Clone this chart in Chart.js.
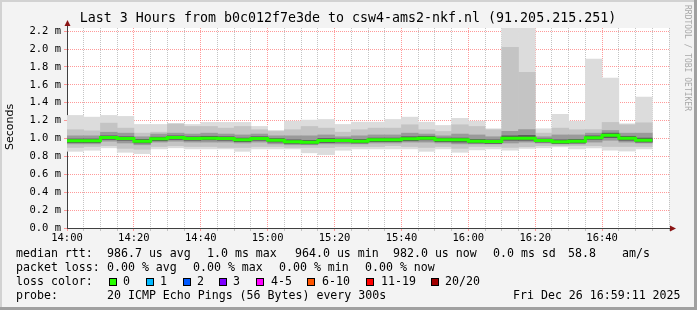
<!DOCTYPE html>
<html>
<head>
<meta charset="utf-8">
<script src="https://cdn.jsdelivr.net/npm/chart.js@4/dist/chart.umd.min.js"></script>
<style>
  html, body { margin: 0; padding: 0; background: #f3f3f3; }
  canvas { display: block; }
</style>
</head>
<body>
<canvas id="smoke" width="697" height="310"></canvas>
<script>
// 5 minute steps, 20 pings each
const slots = ["14:00","14:05","14:10","14:15","14:20","14:25","14:30","14:35","14:40","14:45",
  "14:50","14:55","15:00","15:05","15:10","15:15","15:20","15:25","15:30","15:35",
  "15:40","15:45","15:50","15:55","16:00","16:05","16:10","16:15","16:20","16:25",
  "16:30","16:35","16:40","16:45","16:50"];

// rtt in ms
const maxRtt = [1.258,1.239,1.258,1.247,1.157,1.157,1.169,1.157,1.180,1.180,1.180,1.135,1.090,1.194,1.206,1.213,1.157,1.183,1.183,1.213,
  1.239,1.183,1.146,1.225,1.194,1.109,2.300,2.300,1.109,1.270,1.194,1.888,1.674,1.165,1.464];
const p90Rtt = [1.098,1.086,1.172,1.116,1.060,1.071,1.161,1.135,1.135,1.116,1.135,1.098,1.079,1.098,1.135,1.116,1.071,1.098,1.116,1.116,
  1.154,1.098,1.079,1.154,1.135,1.098,2.020,1.740,1.060,1.116,1.098,1.100,1.180,1.154,1.176];
const p75Rtt = [1.03,1.03,1.07,1.06,1.02,1.05,1.06,1.05,1.06,1.05,1.04,1.05,1.03,1.03,1.03,1.04,1.02,1.03,1.04,1.04,
  1.06,1.05,1.03,1.05,1.04,1.02,1.08,1.10,1.02,1.04,1.04,1.06,1.09,1.06,1.06];
const p60Rtt = [0.995,0.995,1.03,1.02,0.99,1.015,1.03,1.02,1.025,1.02,1.005,1.02,1.0,0.985,0.98,1.0,0.995,0.99,1.005,1.005,
  1.02,1.025,1.005,1.005,0.99,0.985,1.03,1.035,0.995,0.985,0.99,1.03,1.06,1.025,1.005];
const medianRtt = [0.974,0.974,1.011,1.000,0.970,0.997,1.011,1.000,1.003,1.000,0.985,1.000,0.981,0.963,0.958,0.978,0.978,0.970,0.985,0.985,
  0.997,1.003,0.985,0.985,0.970,0.966,1.003,1.003,0.978,0.963,0.970,1.008,1.037,1.003,0.981];
const p40Rtt = [0.955,0.955,0.99,0.98,0.95,0.975,0.99,0.98,0.985,0.98,0.965,0.98,0.96,0.945,0.94,0.955,0.96,0.95,0.965,0.965,
  0.975,0.985,0.965,0.96,0.95,0.945,0.98,0.98,0.96,0.945,0.95,0.99,1.01,0.98,0.96];
const p25Rtt = [0.94,0.94,0.97,0.95,0.93,0.96,0.97,0.96,0.96,0.96,0.95,0.96,0.94,0.93,0.93,0.94,0.94,0.94,0.95,0.95,
  0.96,0.96,0.95,0.94,0.94,0.94,0.95,0.96,0.95,0.94,0.94,0.96,0.98,0.96,0.95];
const p10Rtt = [0.90,0.91,0.92,0.89,0.88,0.91,0.92,0.91,0.91,0.90,0.90,0.91,0.91,0.90,0.90,0.90,0.91,0.91,0.91,0.92,
  0.91,0.90,0.91,0.89,0.91,0.91,0.90,0.91,0.92,0.92,0.92,0.92,0.91,0.91,0.91];
const minRtt = [0.857,0.869,0.896,0.846,0.831,0.884,0.896,0.884,0.884,0.884,0.857,0.884,0.884,0.884,0.840,0.820,0.869,0.884,0.884,0.884,
  0.884,0.857,0.884,0.846,0.873,0.884,0.869,0.890,0.896,0.907,0.884,0.896,0.870,0.860,0.884];

const xTickLabels = ["14:00","14:20","14:40","15:00","15:20","15:40","16:00","16:20","16:40"];
const yTickLabels = ["0.0 m","0.2 m","0.4 m","0.6 m","0.8 m","1.0 m","1.2 m","1.4 m","1.6 m","1.8 m","2.0 m","2.2 m"];

const title = "Last 3 Hours from b0c012f7e3de to csw4-ams2-nkf.nl (91.205.215.251)";
const rttStats = ["986.7 us avg", "1.0 ms max", "964.0 us min", "982.0 us now", "0.0 ms sd", "58.8", "am/s"];
const lossStats = ["0.00 % avg", "0.00 % max", "0.00 % min", "0.00 % now"];
const lossLabels = ["0", "1", "2", "3", "4-5", "6-10", "11-19", "20/20"];
const lossColors = ["#26ff00", "#00b8ff", "#0059ff", "#7e00ff", "#ff00ff", "#ff5500", "#ff0000", "#a10000"];
const probeText = "20 ICMP Echo Pings (56 Bytes) every 300s";
const stamp = "Fri Dec 26 16:59:11 2025";

const toMin = s => { const p = s.split(":").map(Number); return (p[0] - 14) * 60 + p[1]; };

function band(lo, hi, color, order) {
  return {
    type: "bar",
    data: slots.map((s, i) => ({ x: toMin(s) + 2.5, y: [lo[i], hi[i]] })),
    backgroundColor: color,
    borderWidth: 0,
    grouped: false,
    barPercentage: 1,
    categoryPercentage: 1,
    order: order
  };
}

const medianPts = slots.map((s, i) => ({ x: toMin(s) + 2.5, y: medianRtt[i] }));
medianPts.unshift({ x: 0, y: medianRtt[0] });
medianPts.push({ x: toMin(slots[slots.length - 1]) + 5, y: medianRtt[medianRtt.length - 1] });

const MONO = '"DejaVu Sans Mono", monospace';

const decor = {
  id: "decor",
  beforeDraw(chart) {
    const { ctx, chartArea: a } = chart;
    ctx.save();
    ctx.fillStyle = "#f3f3f3";
    ctx.fillRect(0, 0, 697, 310);
    ctx.fillStyle = "#ffffff";
    ctx.fillRect(a.left, a.top, a.right - a.left, a.bottom - a.top);
    ctx.fillStyle = "#d2d2d2";
    ctx.fillRect(0, 0, 697, 2);
    ctx.fillRect(0, 0, 2, 310);
    ctx.fillStyle = "#a0a0a0";
    ctx.fillRect(0, 307, 697, 3);
    ctx.fillRect(694, 0, 3, 310);
    ctx.restore();
  },
  afterDraw(chart) {
    const { ctx, chartArea: a } = chart;
    ctx.save();
    // axis extensions and arrows
    ctx.strokeStyle = "#404040";
    ctx.lineWidth = 1;
    ctx.beginPath();
    ctx.moveTo(a.left + 0.5, a.top);
    ctx.lineTo(a.left + 0.5, 25);
    ctx.moveTo(a.right, a.bottom + 0.5);
    ctx.lineTo(671, a.bottom + 0.5);
    ctx.stroke();
    ctx.fillStyle = "#8b1515";
    ctx.beginPath();
    ctx.moveTo(a.left + 0.5, 20);
    ctx.lineTo(a.left - 2.5, 26);
    ctx.lineTo(a.left + 3.5, 26);
    ctx.closePath();
    ctx.fill();
    ctx.beginPath();
    ctx.moveTo(676, a.bottom + 0.5);
    ctx.lineTo(670, a.bottom - 2.5);
    ctx.lineTo(670, a.bottom + 3.5);
    ctx.closePath();
    ctx.fill();

    // title
    ctx.fillStyle = "#000";
    ctx.textBaseline = "middle";
    ctx.textAlign = "center";
    ctx.font = "13.3px " + MONO;
    ctx.fillText(title, 348, 19);

    // vertical labels
    ctx.save();
    ctx.translate(10, 127);
    ctx.rotate(-Math.PI / 2);
    ctx.font = '11px "DejaVu Sans", sans-serif';
    ctx.fillText("Seconds", 0, 0);
    ctx.restore();
    ctx.save();
    ctx.translate(687, 5);
    ctx.rotate(Math.PI / 2);
    ctx.textAlign = "left";
    ctx.font = "8px " + MONO;
    ctx.fillStyle = "#a8a8a8";
    ctx.fillText("RRDTOOL / TOBI OETIKER", 0, 0);
    ctx.restore();

    // legend
    ctx.textAlign = "left";
    ctx.font = "11.6px " + MONO;
    ctx.fillStyle = "#000";
    ctx.fillText("median rtt:", 16, 254);
    [107, 207, 295, 393, 493, 568, 622].forEach((x, i) => ctx.fillText(rttStats[i], x, 254));
    ctx.fillText("packet loss:", 16, 268);
    [107, 193, 279, 365].forEach((x, i) => ctx.fillText(lossStats[i], x, 268));
    ctx.fillText("loss color:", 16, 282);
    const boxX = [109, 146, 183, 219, 256, 307, 366, 431];
    const txtX = [123, 160, 197, 233, 271, 322, 381, 445];
    lossLabels.forEach((lab, i) => {
      ctx.fillStyle = "#000";
      ctx.fillRect(boxX[i], 278, 8, 8);
      ctx.fillStyle = lossColors[i];
      ctx.fillRect(boxX[i] + 1, 279, 6, 6);
      ctx.fillStyle = "#000";
      ctx.fillText(lab, txtX[i], 282);
    });
    ctx.fillText("probe:", 16, 296);
    ctx.fillText(probeText, 107, 296);
    ctx.fillText(stamp, 513, 296);
    ctx.restore();
  }
};

const majorGrid = "rgba(255,120,120,0.75)";
const minorGrid = "rgba(190,190,190,0.9)";

new Chart(document.getElementById("smoke"), {
  type: "bar",
  data: {
    datasets: [
      {
        type: "line",
        data: medianPts,
        borderColor: "#26ff00",
        borderWidth: 3,
        pointRadius: 0,
        stepped: "middle",
        fill: false,
        order: 0
      },
      band(p40Rtt, p60Rtt, "#5a5a5a", 1),
      band(p25Rtt, p75Rtt, "#9a9a9a", 2),
      band(p10Rtt, p90Rtt, "#c4c4c4", 3),
      band(minRtt, maxRtt, "#dcdcdc", 4)
    ]
  },
  options: {
    responsive: false,
    animation: false,
    devicePixelRatio: 1,
    layout: { padding: { top: 28, right: 28, left: 0, bottom: 0 } },
    plugins: { legend: { display: false }, tooltip: { enabled: false } },
    scales: {
      x: {
        type: "linear",
        min: 0,
        max: 180,
        offset: false,
        z: 1,
        afterFit: s => { s.height = 82; },
        grid: {
          offset: false,
          tickLength: 3,
          color: c => (c.tick && c.tick.value % 20 === 0 && c.tick.value < 180) ? majorGrid : minorGrid
        },
        border: { display: true, color: "#404040", dash: [1, 1] },
        ticks: {
          stepSize: 5,
          autoSkip: false,
          maxRotation: 0,
          padding: 1,
          color: "#000",
          font: { family: "DejaVu Sans Mono", size: 10.5 },
          callback: v => (v % 20 === 0 && xTickLabels[v / 20]) ? xTickLabels[v / 20] : ""
        }
      },
      y: {
        min: 0,
        max: 2.235,
        z: 1,
        afterFit: s => { s.width = 67; },
        grid: {
          tickLength: 3,
          color: c => (c.tick && Math.round(c.tick.value * 10) % 2 === 0) ? majorGrid : minorGrid
        },
        border: { display: true, color: "#404040", dash: [1, 1] },
        ticks: {
          stepSize: 0.1,
          includeBounds: false,
          padding: 3,
          color: "#000",
          font: { family: "DejaVu Sans Mono", size: 10.5 },
          callback: v => {
            const k = Math.round(v * 10);
            return k % 2 === 0 ? (yTickLabels[k / 2] || "") : "";
          }
        }
      }
    }
  },
  plugins: [decor]
});
</script>
</body>
</html>
